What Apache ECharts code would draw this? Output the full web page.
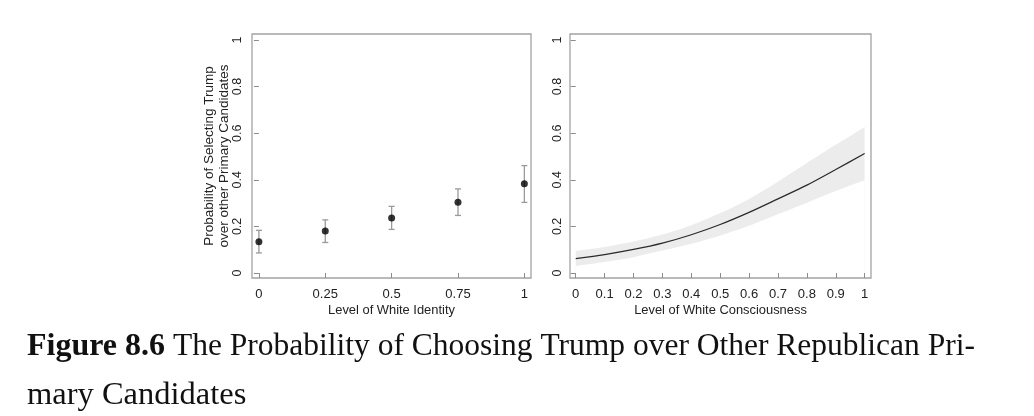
<!DOCTYPE html>
<html>
<head>
<meta charset="utf-8">
<script src="https://cdn.jsdelivr.net/npm/echarts@6/dist/echarts.min.js"></script>
<style>
html,body{margin:0;padding:0;background:#fff;}
#chart{width:1034px;height:416px;}
</style>
</head>
<body>
<div id="chart"></div>
<script>
// ---- Data ----
const identityLevels = [0, 0.25, 0.5, 0.75, 1];
const identityProb = [0.134, 0.180, 0.236, 0.304, 0.383];
const identityLow = [0.086, 0.131, 0.187, 0.247, 0.303];
const identityHigh = [0.183, 0.228, 0.286, 0.361, 0.461];

const consciousnessLevels = [0, 0.1, 0.2, 0.3, 0.4, 0.5, 0.6, 0.7, 0.8, 0.9, 1];
const consciousnessProb = [0.062, 0.079, 0.101, 0.128, 0.164, 0.208, 0.260, 0.318, 0.377, 0.444, 0.513];
const consciousnessLow = [0.030, 0.047, 0.068, 0.096, 0.125, 0.161, 0.203, 0.252, 0.302, 0.352, 0.398];
const consciousnessHigh = [0.095, 0.112, 0.135, 0.165, 0.205, 0.257, 0.318, 0.392, 0.472, 0.550, 0.627];

const yTicks = [0, 0.2, 0.4, 0.6, 0.8, 1];
const identityTicks = [0, 0.25, 0.5, 0.75, 1];
const consciousnessTicks = [0, 0.1, 0.2, 0.3, 0.4, 0.5, 0.6, 0.7, 0.8, 0.9, 1];

const yTitle = 'Probability of Selecting Trump\nover other Primary Candidates';
const xTitleLeft = 'Level of White Identity';
const xTitleRight = 'Level of White Consciousness';
const captionBold = 'Figure 8.6';
const captionLine1 = ' The Probability of Choosing Trump over Other Republican Pri-';
const captionLine2 = 'mary Candidates';

// ---- Styles ----
const frameColor = '#a3a3a3';
const tickColor = '#8c8c8c';
const sans = 'Liberation Sans, Arial, sans-serif';

function xAxis(gridIndex, min, max, ticks, name) {
  return {
    type: 'value', gridIndex, min, max,
    name, nameLocation: 'middle', nameGap: 26, nameMoveOverlap: false,
    nameTextStyle: {color: '#222', fontSize: 12.9, fontFamily: sans},
    axisLine: {show: false},
    axisTick: {show: true, length: 5, lineStyle: {color: tickColor, width: 1}, customValues: ticks},
    axisLabel: {margin: 10, customValues: ticks, formatter: v => String(v), color: '#222', fontSize: 13, fontFamily: sans},
    splitLine: {show: false}
  };
}
function yAxis(gridIndex, name, margin) {
  return {
    type: 'value', gridIndex, min: -0.0215, max: 1.0258,
    name, nameLocation: 'middle', nameGap: 20, nameRotate: 90, nameMoveOverlap: false,
    nameTextStyle: {color: '#222', fontSize: 13.5, fontFamily: sans, lineHeight: 15},
    axisLine: {show: false},
    axisTick: {show: true, length: 5, lineStyle: {color: tickColor, width: 1}, customValues: yTicks},
    axisLabel: {margin, rotate: 90, customValues: yTicks, formatter: v => String(v), color: '#222', fontSize: 12.5, fontFamily: sans},
    splitLine: {show: false}
  };
}

const chart = echarts.init(document.getElementById('chart'), null, {renderer: 'canvas'});

const option = {
  backgroundColor: '#fff',
  animation: false,
  grid: [
    {left: 252, top: 34, width: 279, height: 244, show: true, borderColor: frameColor, borderWidth: 1.3, backgroundColor: '#fff'},
    {left: 570, top: 34, width: 301, height: 244, show: true, borderColor: frameColor, borderWidth: 1.3, backgroundColor: '#fff'}
  ],
  xAxis: [
    xAxis(0, -0.026, 1.025, identityTicks, xTitleLeft),
    xAxis(1, -0.0198, 1.022, consciousnessTicks, xTitleRight)
  ],
  yAxis: [
    yAxis(0, yTitle, 8),
    yAxis(1, '', 6)
  ],
  series: [
    {
      type: 'custom', xAxisIndex: 0, yAxisIndex: 0,
      data: identityLevels.map((x, i) => [x, identityLow[i], identityHigh[i]]),
      renderItem: function (params, api) {
        const lo = api.coord([api.value(0), api.value(1)]);
        const hi = api.coord([api.value(0), api.value(2)]);
        const w = 3;
        const st = {stroke: '#9a9a9a', lineWidth: 1.3};
        return {type: 'group', children: [
          {type: 'line', shape: {x1: lo[0], y1: lo[1], x2: hi[0], y2: hi[1]}, style: st},
          {type: 'line', shape: {x1: lo[0] - w, y1: lo[1], x2: lo[0] + w, y2: lo[1]}, style: st},
          {type: 'line', shape: {x1: hi[0] - w, y1: hi[1], x2: hi[0] + w, y2: hi[1]}, style: st}
        ]};
      },
      z: 2
    },
    {
      type: 'scatter', xAxisIndex: 0, yAxisIndex: 0,
      data: identityLevels.map((x, i) => [x, identityProb[i]]),
      symbol: 'circle', symbolSize: 7,
      itemStyle: {color: '#000'}, z: 3
    },
    {
      // upper edge of confidence band, filled down to 0
      type: 'line', xAxisIndex: 1, yAxisIndex: 1,
      data: consciousnessLevels.map((x, i) => [x, consciousnessHigh[i]]),
      symbol: 'none', smooth: 0.3, lineStyle: {width: 0, opacity: 0},
      areaStyle: {color: '#ececec', opacity: 1, origin: 'auto'}, z: 1
    },
    {
      // lower edge of confidence band, clears area below it
      type: 'line', xAxisIndex: 1, yAxisIndex: 1,
      data: consciousnessLevels.map((x, i) => [x, consciousnessLow[i]]),
      symbol: 'none', smooth: 0.3, lineStyle: {width: 0, opacity: 0},
      areaStyle: {color: '#ffffff', opacity: 1, origin: 'auto'}, z: 2
    },
    {
      type: 'line', xAxisIndex: 1, yAxisIndex: 1,
      data: consciousnessLevels.map((x, i) => [x, consciousnessProb[i]]),
      symbol: 'none', smooth: 0.3, lineStyle: {color: '#2a2a2a', width: 1.2}, z: 3
    }
  ],
  graphic: [
    {
      type: 'text', left: 27, top: 331,
      style: {
        text: '{b|' + captionBold + '}' + captionLine1,
        font: '31.5px "Liberation Serif", serif',
        fill: '#111',
        rich: {b: {fontWeight: 'bold', fontSize: 32, fontFamily: 'Liberation Serif'}}
      }
    },
    {
      type: 'text', left: 27, top: 379,
      style: {
        text: captionLine2,
        font: '32.5px "Liberation Serif", serif',
        fill: '#111'
      }
    }
  ]
};
chart.setOption(option);
</script>
</body>
</html>
